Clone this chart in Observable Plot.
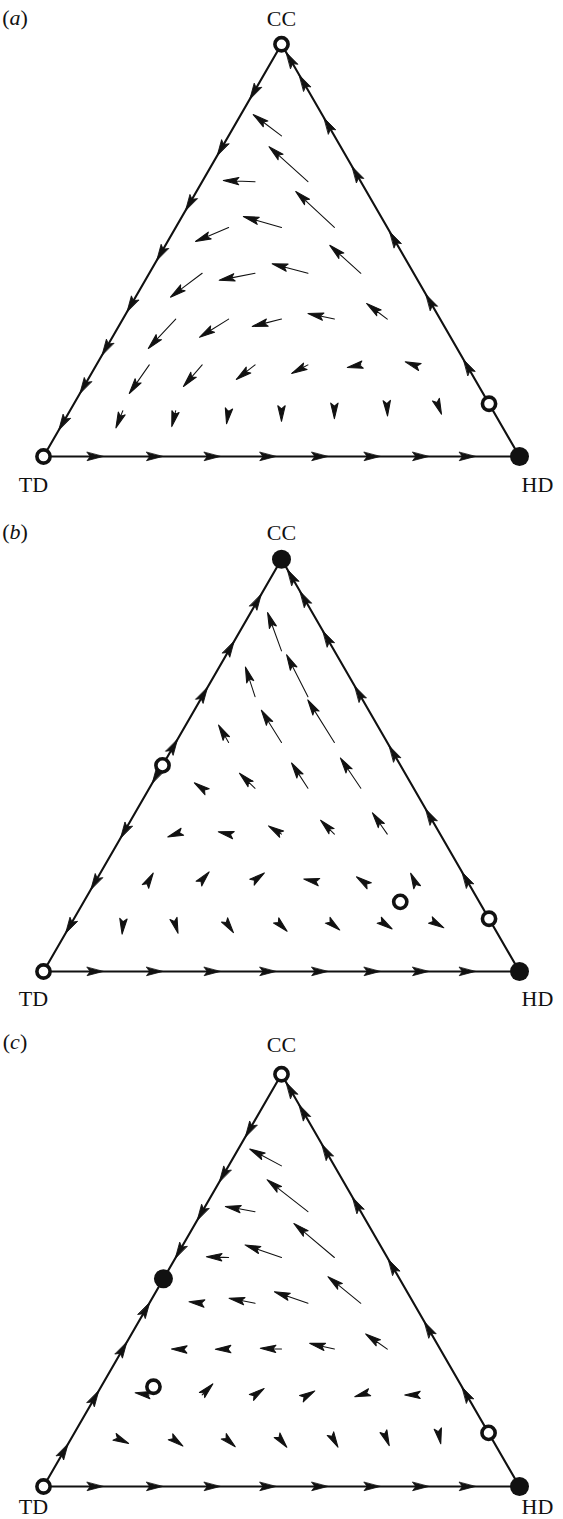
<!DOCTYPE html>
<html>
<head>
<meta charset="utf-8">
<script src="https://cdn.jsdelivr.net/npm/d3@7"></script>
<script src="https://cdn.jsdelivr.net/npm/@observablehq/plot@0.6"></script>
<style>
  body { margin: 0; background: #fff; }
  #fig { position: relative; width: 563px; height: 1519px; background: #fff; }
  .panel { position: absolute; left: 0; }
  svg { display: block; }
</style>
</head>
<body>
<div id="fig"></div>
<script>
// ---------- data ----------
const SIDE = 9; // the arrow lattice divides each edge into 9 steps

const vertices = [
  {name: "TD", cc: 0, hd: 0},
  {name: "HD", cc: 0, hd: 1},
  {name: "CC", cc: 1, hd: 0}
];

const panelLetters = ["a", "b", "c"];

// interior vector field: row k = 1..7 (CC share k/9), entry m = 1..8-k (HD share m/9)
// each value: [direction in degrees clockwise from up, length in lattice steps]
const fieldA = [
  [[202, 0.35], [194, 0.31], [189, 0.25], [180, 0.2], [180, 0.15], [177, 0.1], [159, 0.07]],
  [[215, 0.66], [221, 0.54], [232, 0.45], [242, 0.35], [259, 0.26], [290, 0.17]],
  [[223, 0.76], [238, 0.65], [256, 0.57], [282, 0.51], [307, 0.49]],
  [[233, 0.75], [259, 0.69], [285, 0.70], [312, 0.79]],
  [[247, 0.68], [286, 0.75], [313, 1.0]],
  [[272, 0.6], [312, 0.99]],
  [[307, 0.67]]
];
const fieldB = [
  [[185, 0.16], [163, 0.15], [145, 0.16], [135, 0.15], [129, 0.13], [124, 0.11], [120, 0.08]],
  [[30, 0.15], [41, 0.2], [53, 0.22], [282, 0.08], [305, 0.1], [335, 0.14]],
  [[250, 0.16], [283, 0.2], [302, 0.29], [315, 0.37], [325, 0.49]],
  [[305, 0.18], [314, 0.41], [327, 0.57], [326, 0.69]],
  [[330, 0.38], [328, 0.72], [328, 0.95]],
  [[342, 0.59], [333, 0.89]],
  [[340, 0.77]]
];
const fieldC = [
  [[115, 0.12], [127, 0.17], [132, 0.17], [141, 0.16], [151, 0.14], [158, 0.1], [169, 0.06]],
  [[279, 0.27], [44, 0.29], [55, 0.21], [60, 0.15], [253, 0.12], [270, 0.17]],
  [[272, 0.08], [269, 0.25], [272, 0.4], [283, 0.48], [305, 0.5]],
  [[277, 0.25], [281, 0.5], [289, 0.67], [309, 0.8]],
  [[272, 0.42], [289, 0.73], [310, 1.0]],
  [[280, 0.57], [308, 0.98]],
  [[298, 0.68]]
];

// arrowhead tips along the edges, as fraction of the edge length
const bottomTips = [0.125, 0.25, 0.371, 0.488, 0.597, 0.707, 0.809, 0.907]; // TD -> HD, flow toward HD
const leftTowardTD_A = [0.064, 0.153, 0.246, 0.351, 0.476, 0.597, 0.730, 0.867]; // from TD along TD-CC
const leftTowardCC_A = [];
const rightTowardCC_A = [0.235, 0.393, 0.545, 0.703, 0.821, 0.925, 0.98]; // from HD along HD-CC
const leftTowardTD_B = [0.093, 0.199, 0.324, 0.457];
const leftTowardCC_B = [0.563, 0.689, 0.801, 0.915];
const rightTowardCC_B = [0.241, 0.394, 0.547, 0.692, 0.826, 0.922, 0.975];
const leftTowardTD_C = [0.554, 0.646, 0.739, 0.848];
const leftTowardCC_C = [0.103, 0.232, 0.350, 0.446];
const rightTowardCC_C = [0.241, 0.399, 0.551, 0.701, 0.83, 0.926, 0.98];

// rest points: barycentric shares of CC and HD, stable (filled) or not (open)
const restA = [
  {cc: 1, hd: 0, stable: false}, {cc: 0, hd: 0, stable: false},
  {cc: 0, hd: 1, stable: true}, {cc: 0.128, hd: 0.872, stable: false}
];
const restB = [
  {cc: 1, hd: 0, stable: true}, {cc: 0, hd: 0, stable: false},
  {cc: 0, hd: 1, stable: true}, {cc: 0.5, hd: 0, stable: false},
  {cc: 0.128, hd: 0.872, stable: false}, {cc: 0.169, hd: 0.665, stable: false}
];
const restC = [
  {cc: 1, hd: 0, stable: false}, {cc: 0, hd: 0, stable: false},
  {cc: 0, hd: 1, stable: true}, {cc: 0.504, hd: 0, stable: true},
  {cc: 0.13, hd: 0.87, stable: false}, {cc: 0.242, hd: 0.110, stable: false}
];

// ---------- layout of the three panels ----------
const panels = [
  {letter: panelLetters[0], top: 0, height: 515, field: fieldA, down: leftTowardTD_A, up: leftTowardCC_A, right: rightTowardCC_A, rest: restA, labelY: 25, ccDy: -18, baseDy: 35},
  {letter: panelLetters[1], top: 515, height: 515, field: fieldB, down: leftTowardTD_B, up: leftTowardCC_B, right: rightTowardCC_B, rest: restB, labelY: 24, ccDy: -19, baseDy: 34},
  {letter: panelLetters[2], top: 1030, height: 489, field: fieldC, down: leftTowardTD_C, up: leftTowardCC_C, right: rightTowardCC_C, rest: restC, labelY: 19, ccDy: -22, baseDy: 27}
];

const R3 = Math.sqrt(3) / 2;
const toXY = (cc, hd) => ({x: SIDE * (hd + cc / 2), y: SIDE * cc * R3});
const bearing = (p, q) => Math.atan2(q.x - p.x, q.y - p.y) * 180 / Math.PI;

const V = Object.fromEntries(vertices.map(v => [v.name, {...v, ...toXY(v.cc, v.hd)}]));

const X0 = 43, X1 = 519, YB = 456;
const PX = (X1 - X0) / SIDE;
const FONT = "'Liberation Serif', 'Times New Roman', serif";

function arrowShape(H, W) {
  return {
    draw(ctx, l) {
      const notch = H * 0.8;
      if (l > notch) { ctx.moveTo(0, 0); ctx.lineTo(0, -l + notch); }
      ctx.moveTo(0, -l);
      ctx.lineTo(W, -l + H);
      ctx.lineTo(0, -l + notch);
      ctx.lineTo(-W, -l + H);
      ctx.closePath();
    }
  };
}

const fig = document.getElementById("fig");

for (const P of panels) {
  // interior arrows
  const arrows = [];
  P.field.forEach((row, r) => row.forEach(([ang, len], j) => {
    const k = r + 1, m = j + 1;
    arrows.push({...toXY(k / SIDE, m / SIDE), ang, len});
  }));
  // edge arrowheads
  const heads = [];
  for (const s of bottomTips) heads.push({...toXY(0, s), ang: bearing(V.TD, V.HD)});
  for (const s of P.down) heads.push({...toXY(s, 0), ang: bearing(V.CC, V.TD)});
  for (const s of P.up) heads.push({...toXY(s, 0), ang: bearing(V.TD, V.CC)});
  for (const s of P.right) heads.push({...toXY(s, 1 - s), ang: bearing(V.HD, V.CC)});

  const rest = P.rest.map(d => ({...d, ...toXY(d.cc, d.hd)}));
  const outline = [V.TD, V.HD, V.CC, V.TD];

  const svg = Plot.plot({
    width: 563,
    height: P.height,
    margin: 0,
    style: {background: "white", overflow: "visible"},
    x: {domain: [0, SIDE], range: [X0, X1], axis: null},
    y: {domain: [0, SIDE * R3], range: [YB, YB - (X1 - X0) * R3], axis: null},
    length: {domain: [0, 1], range: [0, PX]},
    marks: [
      Plot.line(outline, {x: "x", y: "y", stroke: "#111", strokeWidth: 2.1, strokeLinejoin: "round"}),
      Plot.vector(heads, {x: "x", y: "y", rotate: "ang", length: 0, anchor: "start",
        shape: arrowShape(16, 4.2), fill: "#111", stroke: "#111", strokeWidth: 0.8}),
      Plot.vector(arrows, {x: "x", y: "y", rotate: "ang", length: "len", anchor: "start",
        shape: arrowShape(15.5, 3.7), fill: "#111", stroke: "#111", strokeWidth: 1.05}),
      Plot.dot(rest.filter(d => !d.stable), {x: "x", y: "y", r: 6.6, fill: "white", stroke: "#111", strokeWidth: 3.6}),
      Plot.dot(rest.filter(d => d.stable), {x: "x", y: "y", r: 9.5, fill: "#111", stroke: "none"}),
      Plot.text([V.CC], {x: "x", y: "y", text: "name", dy: P.ccDy, lineAnchor: "bottom",
        fontFamily: FONT, fontSize: 22, fill: "#111"}),
      Plot.text([V.TD], {x: "x", y: "y", text: "name", dx: -10, dy: P.baseDy, lineAnchor: "bottom",
        fontFamily: FONT, fontSize: 22, fill: "#111"}),
      Plot.text([V.HD], {x: "x", y: "y", text: "name", dx: 18, dy: P.baseDy, lineAnchor: "bottom",
        fontFamily: FONT, fontSize: 22, fill: "#111"})
    ]
  });

  const lab = d3.select(svg).append("text")
    .attr("x", 15).attr("y", P.labelY)
    .attr("font-family", FONT).attr("font-size", 22).attr("fill", "#111");
  lab.append("tspan").text("(");
  lab.append("tspan").attr("font-style", "italic").text(P.letter);
  lab.append("tspan").text(")");

  const div = document.createElement("div");
  div.className = "panel";
  div.style.top = P.top + "px";
  div.appendChild(svg);
  fig.appendChild(div);
}
</script>
</body>
</html>
